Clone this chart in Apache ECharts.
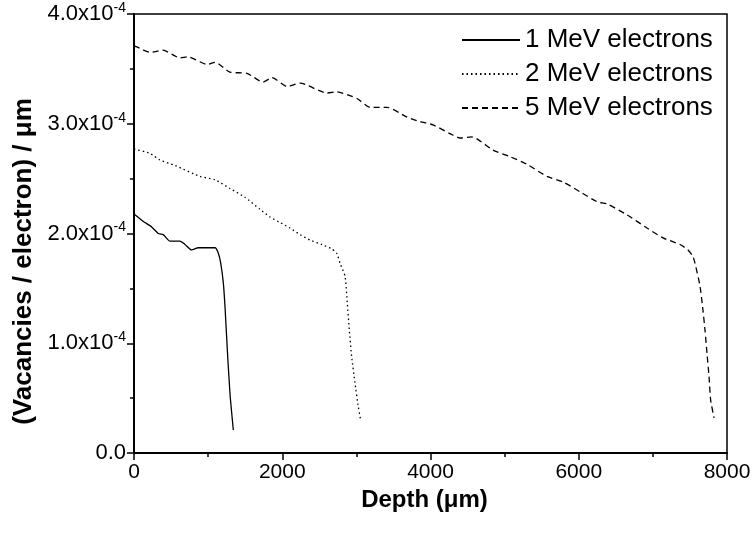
<!DOCTYPE html>
<html>
<head>
<meta charset="utf-8">
<script src="https://cdn.jsdelivr.net/npm/echarts@6/dist/echarts.min.js"></script>
<style>
html,body{margin:0;padding:0;background:#fff;}
#chart{width:752px;height:536px;}
</style>
</head>
<body>
<div id="chart"></div>
<script>
// Depth (µm) and vacancies per electron per µm
const seriesNames = ['1 MeV electrons', '2 MeV electrons', '5 MeV electrons'];

const depth1 = [0, 13, 126, 238, 328, 395, 486, 621, 688, 778, 868, 981, 1093, 1138, 1170, 1205, 1228, 1259, 1295, 1340];
const vac1 = [2.18e-4, 2.17e-4, 2.11e-4, 2.06e-4, 2.00e-4, 1.99e-4, 1.93e-4, 1.93e-4, 1.90e-4, 1.85e-4, 1.87e-4, 1.87e-4, 1.87e-4, 1.82e-4, 1.73e-4, 1.55e-4, 1.33e-4, 0.94e-4, 0.54e-4, 0.21e-4];

const depth2 = [0, 216, 350, 553, 890, 1093, 1295, 1497, 1700, 1835, 1970, 2105, 2240, 2375, 2532, 2667, 2734, 2779, 2847, 2878, 2905, 2936, 2981, 3026, 3058];
const vac2 = [2.77e-4, 2.73e-4, 2.67e-4, 2.62e-4, 2.52e-4, 2.49e-4, 2.41e-4, 2.33e-4, 2.22e-4, 2.15e-4, 2.10e-4, 2.05e-4, 1.99e-4, 1.94e-4, 1.90e-4, 1.86e-4, 1.82e-4, 1.73e-4, 1.61e-4, 1.36e-4, 1.12e-4, 0.88e-4, 0.64e-4, 0.42e-4, 0.30e-4];

const depth5 = [0, 40, 216, 391, 621, 728, 985, 1093, 1295, 1524, 1740, 1862, 2064, 2240, 2604, 2739, 3008, 3184, 3413, 3683, 3858, 4034, 4263, 4398, 4560, 4843, 5073, 5302, 5572, 5788, 6017, 6246, 6381, 6651, 6921, 7136, 7366, 7474, 7541, 7568, 7636, 7676, 7703, 7730, 7757, 7780, 7825];
const vac5 = [3.71e-4, 3.70e-4, 3.65e-4, 3.67e-4, 3.60e-4, 3.61e-4, 3.54e-4, 3.56e-4, 3.47e-4, 3.46e-4, 3.38e-4, 3.42e-4, 3.34e-4, 3.37e-4, 3.28e-4, 3.29e-4, 3.23e-4, 3.15e-4, 3.15e-4, 3.06e-4, 3.02e-4, 2.99e-4, 2.91e-4, 2.87e-4, 2.88e-4, 2.76e-4, 2.70e-4, 2.63e-4, 2.52e-4, 2.47e-4, 2.38e-4, 2.29e-4, 2.27e-4, 2.17e-4, 2.05e-4, 1.96e-4, 1.90e-4, 1.85e-4, 1.79e-4, 1.73e-4, 1.52e-4, 1.30e-4, 1.12e-4, 0.91e-4, 0.70e-4, 0.48e-4, 0.32e-4];

const xTicks = [0, 2000, 4000, 6000, 8000];
const yTickLabels = ['0.0', '1.0x10', '2.0x10', '3.0x10', '4.0x10'];
const yExponent = '-4';

function zip(xs, ys) { return xs.map((x, i) => [x, ys[i]]); }

const FONT = '"Liberation Sans", Arial, sans-serif';
const chart = echarts.init(document.getElementById('chart'), null, {renderer: 'canvas'});

const dashTypes = ['solid', [1.5, 3], [6, 4]];
const allData = [zip(depth1, vac1), zip(depth2, vac2), zip(depth5, vac5)];

chart.setOption({
  animation: false,
  backgroundColor: '#fff',
  grid: {left: 134, right: 25, top: 14, bottom: 83, show: true, borderColor: '#000', borderWidth: 1.5,
         backgroundColor: 'transparent', outerBoundsMode: 'none', containLabel: false},
  legend: {
    orient: 'vertical', left: 456, top: 22, itemWidth: 58, itemHeight: 10, itemGap: 8,
    textStyle: {fontFamily: FONT, fontSize: 26, color: '#000'},
    itemStyle: {opacity: 0},
    data: seriesNames
  },
  xAxis: {
    type: 'value', min: xTicks[0], max: xTicks[xTicks.length - 1], interval: 2000,
    axisLine: {show: true, lineStyle: {color: '#000', width: 2}},
    axisTick: {show: true, inside: false, length: 7, lineStyle: {color: '#000', width: 1.5}},
    minorTick: {show: true, splitNumber: 2, length: 4, lineStyle: {color: '#000', width: 1.5}},
    splitLine: {show: false},
    axisLabel: {fontFamily: FONT, fontSize: 21, color: '#000', margin: 9,
      formatter: function (v) { return String(Math.round(v)); }},
    name: 'Depth (μm)', nameLocation: 'middle', nameGap: 29,
    nameTextStyle: {fontFamily: FONT, fontSize: 24, fontWeight: 'bold', color: '#000', padding: [0, 12, 0, 0]}
  },
  yAxis: {
    type: 'value', min: 0, max: 4e-4, interval: 1e-4,
    axisLine: {show: true, lineStyle: {color: '#000', width: 2}},
    axisTick: {show: true, inside: false, length: 7, lineStyle: {color: '#000', width: 1.5}},
    minorTick: {show: true, splitNumber: 2, length: 4, lineStyle: {color: '#000', width: 1.5}},
    splitLine: {show: false},
    axisLabel: {
      margin: 8,
      formatter: function (v) {
        const i = Math.round(v * 1e4);
        if (i === 0) return '{m|' + yTickLabels[0] + '}';
        return '{m|' + yTickLabels[i] + '}{s|' + yExponent + '}';
      },
      rich: {
        m: {fontFamily: FONT, fontSize: 22, color: '#000'},
        s: {fontFamily: FONT, fontSize: 14, color: '#000', verticalAlign: 'top', padding: [0, 0, 12, 0]}
      }
    },
    name: '(Vacancies / electron) / μm', nameLocation: 'middle', nameGap: 95,
    nameTextStyle: {fontFamily: FONT, fontSize: 26, fontWeight: 'bold', color: '#000', padding: [0, 56, 0, 0]}
  },
  series: seriesNames.map((name, k) => ({
    name: name, type: 'line', data: allData[k], symbol: 'none', showSymbol: false, smooth: 0.2,
    lineStyle: {color: '#000', width: 1.3, type: dashTypes[k]},
    itemStyle: {color: '#000'}
  }))
});
</script>
</body>
</html>
